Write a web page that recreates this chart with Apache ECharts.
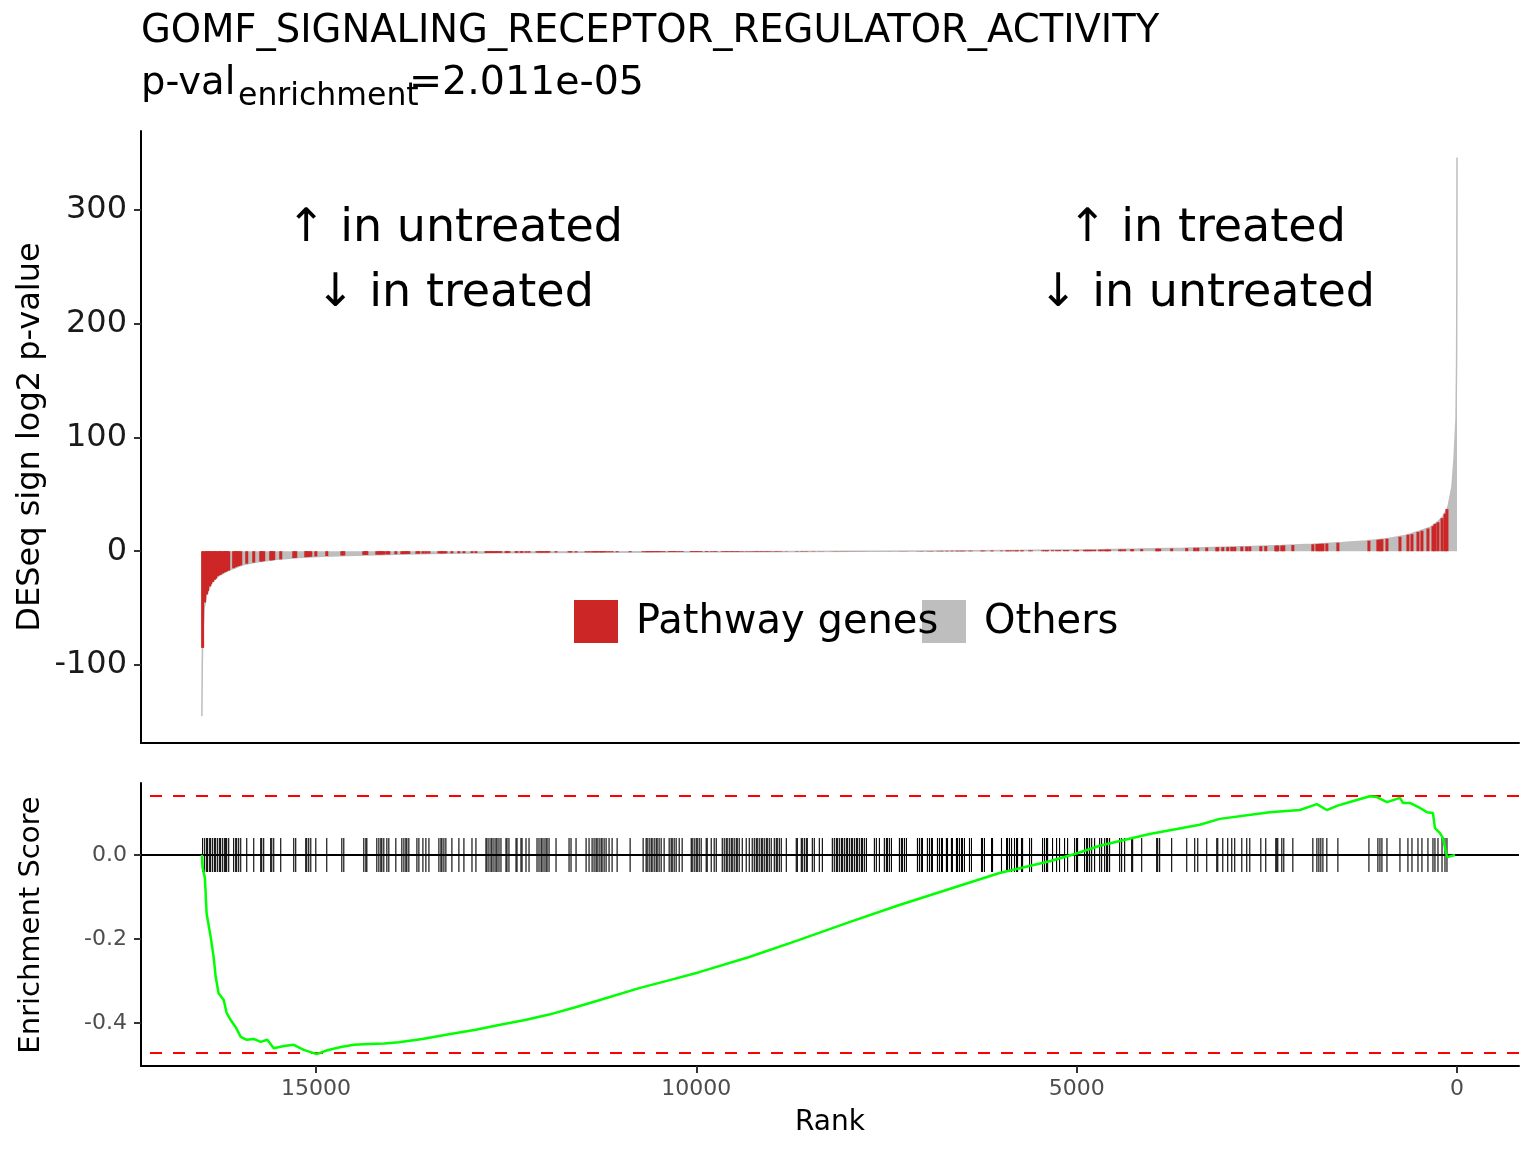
<!DOCTYPE html>
<html><head><meta charset="utf-8">
<script src="https://cdn.jsdelivr.net/npm/echarts@6/dist/echarts.min.js"></script>
<style>html,body{margin:0;padding:0;background:#fff}#c{width:1536px;height:1152px}</style>
</head><body><div id="c"></div>
<script>
const titleText = 'GOMF_SIGNALING_RECEPTOR_REGULATOR_ACTIVITY';
const pValueText = '=2.011e-05';
const rankTicks = [0, 5000, 10000, 15000];
const metricTicks = [-100, 0, 100, 200, 300];
const esTicks = [-0.4, -0.2, 0.0];

// ranked metric of all genes (rank, DESeq sign log2 p-value)
const allGenesCurve = [
  [16500,-145],[16494,-100],[16488,-75],[16470,-50],[16440,-39],[16400,-32],[16360,-27],[16280,-21.5],
  [16140,-16.5],[15960,-12],[15780,-9.5],[15510,-7],[15210,-5.5],[14910,-4.5],[14460,-3.5],[13800,-2.5],
  [13280,-1.9],[12600,-1.45],[11900,-1.15],[11280,-0.95],[10500,-0.76],[9500,-0.49],[8600,-0.23],[7900,-0.07],
  [7600,0],[7000,0.18],[6400,0.4],[5800,0.65],[5200,0.97],[4700,1.33],[4200,1.85],[3600,2.7],[3100,3.5],
  [2700,4.2],[2300,5],[1900,6.1],[1500,7.7],[1200,9],[900,11.2],[700,13.5],[500,17.5],[350,21],[250,26],
  [184,30.5],[118,39],[66,57],[39,81],[13,116],[5,170],[2,240],[0,346]
];

// pathway genes (rank, metric)
const pathwayGenes = [
  [16490,-85],[16463,-45],[16437,-38],[16424,-35],[16397,-31],[16384,-29],[16358,-27],[16332,-25],[16318,-24],
  [16292,-22],[16266,-21],[16253,-20.5],[16226,-19.5],[16200,-18.5],[16187,-18],[16174,-17.5],[16147,-17],
  [16082,-15],[16055,-14],[16042,-13.5],[16016,-13],[15989,-12.5],[15910,-11],[15818,-10],[15726,-9],[15713,-9],
  [15687,-8.7],[15595,-8],[15581,-8],[15555,-7.8],[15463,-7.2],[15292,-6],[15266,-5.8],[15134,-5.2],[15121,-5.1],
  [15095,-5],[15068,-4.9],[15002,-4.6],[14858,-4.2],[14660,-3.8],[14634,-3.7],[14371,-3.3],[14344,-3.2],[14331,-3.2],
  [14200,-3],[14173,-3],[14147,-2.9],[14134,-2.9],[14108,-2.9],[14068,-2.8],[14042,-2.8],[13950,-2.6],[13871,-2.5],
  [13844,-2.5],[13818,-2.5],[13805,-2.4],
  [13779,-2.4],[13673,-2.2],[13647,-2.2],[13594,-2.1],[13555,-2.1],[13515,-2],[13384,-1.9],[13357,-1.9],[13344,-1.9],
  [13318,-1.9],[13292,-1.85],[13213,-1.8],[13121,-1.75],[13055,-1.7],[12949,-1.6],[12897,-1.6],[12765,-1.5],[12752,-1.5],
  [12726,-1.5],[12699,-1.5],[12686,-1.5],[12660,-1.5],[12634,-1.45],[12620,-1.45],[12594,-1.45],[12568,-1.4],[12502,-1.4],
  [12489,-1.4],[12463,-1.4],[12370,-1.3],[12357,-1.3],[12305,-1.3],[12291,-1.3],[12239,-1.3],[12199,-1.25],[12094,-1.2],
  [12068,-1.2],[12041,-1.2],[12028,-1.2],[12002,-1.2],[11976,-1.15],[11962,-1.15],[11936,-1.15],[11844,-1.1],[11673,-1.05],
  [11647,-1.05],[11581,-1.05],[11449,-1],[11410,-1],[11370,-1],[11344,-1],[11318,-0.95],[11304,-0.95],[11278,-0.95],
  [11252,-0.95],[11239,-0.95],[11212,-0.9],[11186,-0.9],[11147,-0.9],[11107,-0.9],[11041,-0.9],
  [10870,-0.85],[10699,-0.8],[10660,-0.8],[10646,-0.8],[10620,-0.8],[10594,-0.78],[10581,-0.78],[10554,-0.78],[10528,-0.76],
  [10515,-0.76],[10489,-0.76],[10462,-0.75],[10423,-0.75],[10357,-0.73],[10331,-0.72],[10317,-0.72],[10291,-0.72],[10265,-0.7],
  [10225,-0.7],[10186,-0.68],[10067,-0.66],[10054,-0.65],[10028,-0.65],[10002,-0.64],[9988,-0.64],[9962,-0.63],[9936,-0.62],
  [9870,-0.6],[9857,-0.6],[9804,-0.58],[9765,-0.57],[9738,-0.56],[9659,-0.54],[9633,-0.53],[9607,-0.52],[9594,-0.52],
  [9567,-0.51],[9541,-0.5],[9528,-0.5],[9502,-0.49],[9475,-0.48],[9462,-0.48],[9436,-0.47],[9396,-0.46],[9344,-0.44],
  [9304,-0.43],[9265,-0.42],[9238,-0.41],[9212,-0.4],[9199,-0.4],[9173,-0.39],[9146,-0.38],[9133,-0.38],[9107,-0.37],
  [9080,-0.36],[9067,-0.36],[9041,-0.35],[9015,-0.34],[8975,-0.33],[8949,-0.32],[8936,-0.32],[8909,-0.31],[8883,-0.3],
  [8817,-0.28],[8686,-0.25],[8672,-0.25],[8620,-0.24],[8607,-0.23],[8580,-0.23],[8554,-0.22],[8541,-0.22],[8475,-0.2],
  [8449,-0.2],[8383,-0.18],[8343,-0.17],
  [8212,-0.14],[8186,-0.13],[8159,-0.13],[8146,-0.12],[8120,-0.12],[8093,-0.11],[8080,-0.11],[8054,-0.1],[8028,-0.1],
  [8014,-0.09],[7988,-0.09],[7962,-0.08],[7949,-0.08],[7922,-0.07],[7896,-0.07],[7883,-0.06],[7857,-0.06],[7830,-0.05],
  [7817,-0.05],[7791,-0.04],[7764,-0.04],[7659,-0.02],[7633,-0.01],[7593,0],[7528,0.02],[7501,0.03],[7488,0.03],
  [7462,0.04],[7435,0.05],[7330,0.08],[7304,0.09],[7291,0.09],[7264,0.1],[7238,0.11],[7093,0.15],[7067,0.16],
  [7041,0.17],[7027,0.17],[6962,0.19],[6935,0.2],[6909,0.21],[6896,0.21],[6830,0.23],[6804,0.24],[6777,0.25],
  [6764,0.25],[6712,0.27],[6698,0.28],[6646,0.3],[6633,0.3],[6580,0.32],[6567,0.33],[6541,0.34],[6514,0.35],
  [6501,0.35],[6475,0.36],[6409,0.39],[6383,0.4],[6251,0.45],[6238,0.46],[6212,0.47],[6119,0.5],[6106,0.51],
  [5988,0.56],[5922,0.59],[5909,0.6],[5883,0.61],[5856,0.62],[5817,0.64],[5790,0.65],[5777,0.66],[5725,0.68],
  [5711,0.69],[5619,0.73],[5593,0.75],
  [5448,0.82],[5422,0.84],[5396,0.85],[5382,0.86],[5317,0.9],[5264,0.93],[5225,0.95],[5159,0.99],[5119,1.02],
  [5027,1.08],[5001,1.1],[4988,1.11],[4896,1.18],[4869,1.2],[4856,1.21],[4830,1.23],[4803,1.25],[4764,1.28],
  [4698,1.33],[4672,1.35],[4632,1.39],[4606,1.41],[4593,1.42],[4567,1.45],[4435,1.57],[4409,1.6],[4369,1.64],
  [4277,1.74],[4264,1.76],[4145,1.9],[3948,2.15],[3935,2.17],[3909,2.2],[3751,2.45],[3553,2.75],[3448,2.95],
  [3408,3],[3290,3.2],[3158,3.4],[3145,3.45],[3079,3.55],[3014,3.65],[2961,3.75],[2922,3.8],[2829,4],[2764,4.1],[2724,4.2],
  [2579,4.4],[2514,4.5],[2382,4.8],[2369,4.8],[2356,4.9],[2303,5],[2277,5.1],[2158,5.4],[1895,6.1],[1842,6.3],
  [1816,6.4],[1790,6.5],[1763,6.6],[1711,6.8],[1566,7.4],[1158,9.2],[1040,10],[1013,10.2],[987,10.5],[921,11],
  [750,12.7],[645,14.5],[592,15],[513,17],[461,18],[382,20],[316,22],[290,24],[250,25.5],[197,29],[158,33],[132,37]
];

// running enrichment score (rank, ES)
const enrichmentScore = [
  [16500,0],[16490,-0.03],[16460,-0.055],[16437,-0.14],[16384,-0.195],[16345,-0.243],[16318,-0.29],[16280,-0.329],
  [16213,-0.345],[16174,-0.376],[16121,-0.393],[16055,-0.41],[15989,-0.433],[15910,-0.44],[15820,-0.438],[15726,-0.445],
  [15640,-0.44],[15555,-0.46],[15420,-0.455],[15292,-0.452],[15160,-0.464],[14990,-0.474],[14850,-0.465],[14673,-0.457],
  [14500,-0.452],[14300,-0.45],[14100,-0.449],[13910,-0.446],[13600,-0.438],[13252,-0.427],[12900,-0.416],[12594,-0.405],
  [12250,-0.393],[11936,-0.38],[11600,-0.363],[11278,-0.346],[10752,-0.317],[10350,-0.298],[9962,-0.279],[9304,-0.243],
  [8646,-0.202],[7988,-0.16],[7330,-0.119],[6672,-0.081],[6014,-0.043],[5356,-0.015],[5014,0.003],[4698,0.022],
  [4040,0.05],[3382,0.072],[3119,0.086],[2461,0.102],[2066,0.107],[1842,0.121],[1711,0.107],[1579,0.117],[1408,0.126],
  [1145,0.14],[1053,0.138],[921,0.126],[750,0.136],[711,0.124],[619,0.124],[487,0.112],[395,0.102],[316,0.1],
  [290,0.064],[224,0.052],[184,0.04],[132,-0.005],[26,0]
];

const esMax = Math.max(...enrichmentScore.map(d => d[1]));
const esMin = Math.min(...enrichmentScore.map(d => d[1]));

const FONT = 'DejaVu Sans';
const chart = echarts.init(document.getElementById('c'), null, {renderer: 'canvas'});

const axisLineStyle = {color: '#000', width: 2};
const option = {
  animation: false,
  backgroundColor: '#fff',
  textStyle: {fontFamily: FONT},
  grid: [
    {left: 141, right: 17, top: 131, height: 612},
    {left: 141, right: 17, top: 783, height: 283}
  ],
  xAxis: [
    {gridIndex: 0, type: 'value', inverse: true, min: -815, max: 17300,
     axisLine: {show: true, onZero: false, lineStyle: axisLineStyle},
     axisTick: {show: false}, axisLabel: {show: false}, splitLine: {show: false}},
    {gridIndex: 1, type: 'value', inverse: true, min: -815, max: 17300,
     axisLine: {show: true, onZero: false, lineStyle: axisLineStyle},
     axisTick: {show: true, length: 7, lineStyle: {color: '#333', width: 2}, customValues: rankTicks},
     axisLabel: {show: true, customValues: rankTicks, formatter: v => String(v), fontSize: 22, color: '#4d4d4d', margin: 12, fontFamily: FONT},
     splitLine: {show: false}}
  ],
  yAxis: [
    {gridIndex: 0, type: 'value', min: -168.6, max: 369.4,
     axisLine: {show: true, onZero: false, lineStyle: axisLineStyle},
     axisTick: {show: true, length: 7, lineStyle: {color: '#333', width: 2}, customValues: metricTicks},
     axisLabel: {show: true, customValues: metricTicks, formatter: v => String(v), fontSize: 32, color: '#1a1a1a', margin: 14, fontFamily: FONT, padding: [3, 0, 0, 0]},
     splitLine: {show: false}},
    {gridIndex: 1, type: 'value', min: -0.5024, max: 0.1714,
     axisLine: {show: true, onZero: false, lineStyle: axisLineStyle},
     axisTick: {show: true, length: 7, lineStyle: {color: '#333', width: 2}, customValues: esTicks},
     axisLabel: {show: true, customValues: esTicks, formatter: v => v.toFixed(1), fontSize: 22, color: '#4d4d4d', margin: 14, fontFamily: FONT},
     splitLine: {show: false}}
  ],
  series: [
    {type: 'line', xAxisIndex: 0, yAxisIndex: 0, data: allGenesCurve, showSymbol: false, silent: true,
     lineStyle: {color: '#bebebe', width: 1.5}, areaStyle: {color: '#bebebe', opacity: 1}, z: 2},
    {type: 'custom', xAxisIndex: 0, yAxisIndex: 0, data: pathwayGenes, encode: {x: 0, y: 1}, silent: true, z: 3,
     renderItem: function (params, api) {
       const p0 = api.coord([api.value(0), 0]);
       const p1 = api.coord([api.value(0), api.value(1)]);
       return {type: 'rect', shape: {x: p0[0] - 1.5, y: Math.min(p0[1], p1[1]), width: 3, height: Math.abs(p1[1] - p0[1])},
               style: {fill: '#cd2626'}};
     }},
    {type: 'custom', xAxisIndex: 1, yAxisIndex: 1, data: pathwayGenes.map(d => [d[0], 0]), encode: {x: 0, y: 1}, silent: true, z: 3,
     renderItem: function (params, api) {
       const a = api.coord([api.value(0), 0.0405]);
       const b = api.coord([api.value(0), -0.0405]);
       return {type: 'line', shape: {x1: a[0], y1: a[1], x2: b[0], y2: b[1]}, style: {stroke: '#000', lineWidth: 1.1, opacity: 1}};
     }},
    {type: 'line', xAxisIndex: 1, yAxisIndex: 1, data: enrichmentScore, showSymbol: false, silent: true, z: 5,
     lineStyle: {color: '#00ff00', width: 2.5},
     markLine: {silent: true, symbol: 'none', label: {show: false}, animation: false,
       data: [
         {yAxis: 0, lineStyle: {color: '#000', width: 2, type: 'solid'}},
         {yAxis: esMax, lineStyle: {color: '#ff0000', width: 2, type: [12, 11]}},
         {yAxis: esMin, lineStyle: {color: '#ff0000', width: 2, type: [12, 11]}}
       ]}}
  ],
  graphic: [
    {type: 'text', x: 141, y: 32, style: {text: titleText, font: '38.5px "DejaVu Sans"', fill: '#000', verticalAlign: 'middle'}},
    {type: 'text', x: 141, y: 84, style: {text: 'p-val', font: '38.5px "DejaVu Sans"', fill: '#000', verticalAlign: 'middle'}},
    {type: 'text', x: 238, y: 97, style: {text: 'enrichment', font: '31.5px "DejaVu Sans"', fill: '#000', verticalAlign: 'middle'}},
    {type: 'text', x: 409, y: 84, style: {text: pValueText, font: '39.5px "DejaVu Sans"', fill: '#000', verticalAlign: 'middle'}},
    {type: 'text', x: 455, y: 229, style: {text: '↑ in untreated', font: '46px "DejaVu Sans"', fill: '#000', align: 'center', verticalAlign: 'middle'}},
    {type: 'text', x: 455, y: 294, style: {text: '↓ in treated', font: '46px "DejaVu Sans"', fill: '#000', align: 'center', verticalAlign: 'middle'}},
    {type: 'text', x: 1207, y: 229, style: {text: '↑ in treated', font: '46px "DejaVu Sans"', fill: '#000', align: 'center', verticalAlign: 'middle'}},
    {type: 'text', x: 1207, y: 294, style: {text: '↓ in untreated', font: '46px "DejaVu Sans"', fill: '#000', align: 'center', verticalAlign: 'middle'}},
    {type: 'rect', z: 1, shape: {x: 574, y: 600, width: 44, height: 43}, style: {fill: '#cd2626'}},
    {type: 'rect', z: 1, shape: {x: 922, y: 600, width: 44, height: 43}, style: {fill: '#bebebe'}},
    {type: 'text', z: 2, x: 636, y: 623, style: {text: 'Pathway genes', font: '40px "DejaVu Sans"', fill: '#000', verticalAlign: 'middle'}},
    {type: 'text', z: 2, x: 984, y: 623, style: {text: 'Others', font: '40px "DejaVu Sans"', fill: '#000', verticalAlign: 'middle'}},
    {type: 'text', x: 31, y: 437, rotation: Math.PI / 2, style: {text: 'DESeq sign log2 p-value', font: '32px "DejaVu Sans"', fill: '#000', align: 'center', verticalAlign: 'middle'}},
    {type: 'text', x: 31, y: 925, rotation: Math.PI / 2, style: {text: 'Enrichment Score', font: '29px "DejaVu Sans"', fill: '#000', align: 'center', verticalAlign: 'middle'}},
    {type: 'text', x: 830, y: 1123, style: {text: 'Rank', font: '28px "DejaVu Sans"', fill: '#000', align: 'center', verticalAlign: 'middle'}}
  ]
};
chart.setOption(option);
</script>
</body></html>
